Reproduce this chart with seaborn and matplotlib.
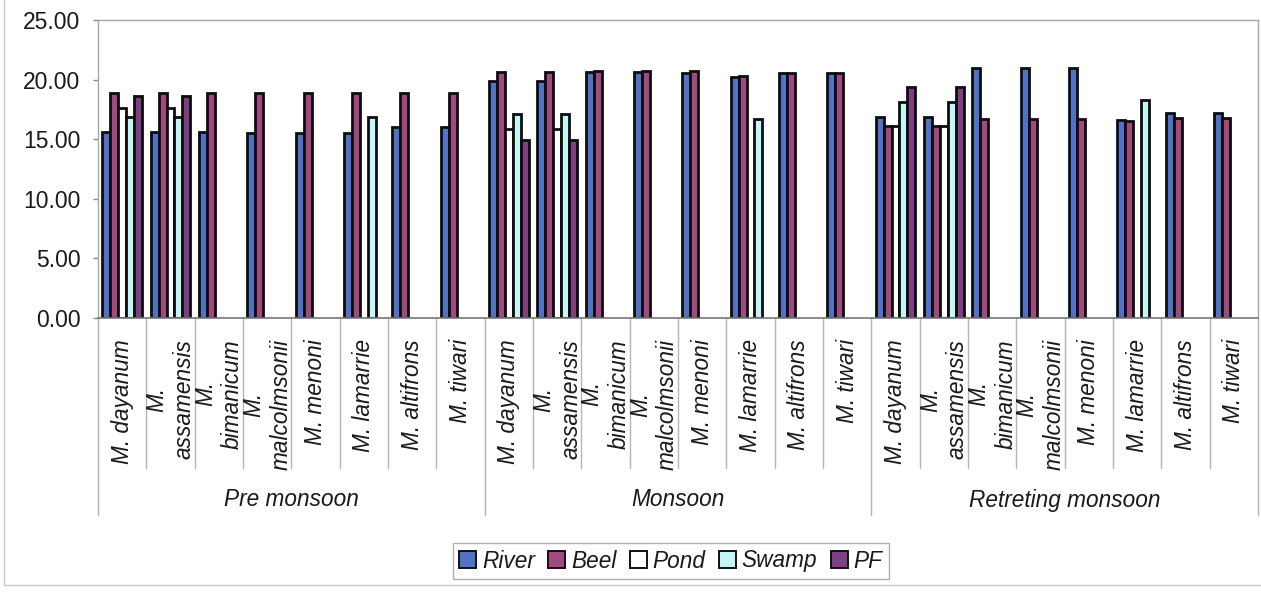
import numpy as np
import pandas as pd
import matplotlib
matplotlib.use("Agg")
import matplotlib.pyplot as plt
from matplotlib.lines import Line2D
from matplotlib.patches import Patch
import seaborn as sns

sns.set_theme(style="white")
plt.rcParams["font.family"] = ["Liberation Sans", "DejaVu Sans"]

seasons = ["Pre monsoon", "Monsoon", "Retreting monsoon"]
species = ["M. dayanum", "M.\nassamensis", "M.\nbimanicum", "M.\nmalcolmsonii",
           "M. menoni", "M. lamarrie", "M. altifrons", "M. tiwari"]
habitats = ["River", "Beel", "Pond", "Swamp", "PF"]
colors = ["#5272c6", "#a04a80", "#ffffff", "#c4f6f8", "#7e3f84"]

nan = np.nan
# one value per season x species, in the order of the lists above
river = [15.63, 15.63, 15.63, 15.55, 15.50, 15.55, 16.05, 16.05,
         19.91, 19.91, 20.60, 20.60, 20.55, 20.19, 20.52, 20.52,
         16.84, 16.84, 21.00, 21.00, 21.00, 16.61, 17.17, 17.17]
beel = [18.85, 18.85, 18.85, 18.85, 18.85, 18.90, 18.90, 18.90,
        20.60, 20.60, 20.72, 20.72, 20.72, 20.30, 20.52, 20.52,
        16.10, 16.10, 16.69, 16.69, 16.69, 16.50, 16.78, 16.78]
pond = [17.59, 17.59, nan, nan, nan, nan, nan, nan,
        15.86, 15.86, nan, nan, nan, nan, nan, nan,
        16.10, 16.10, nan, nan, nan, nan, nan, nan]
swamp = [16.84, 16.84, nan, nan, nan, 16.84, nan, nan,
         17.09, 17.09, nan, nan, nan, 16.69, nan, nan,
         18.09, 18.09, nan, nan, nan, 18.29, nan, nan]
pf = [18.62, 18.62, nan, nan, nan, nan, nan, nan,
      14.93, 14.93, nan, nan, nan, nan, nan, nan,
      19.35, 19.35, nan, nan, nan, nan, nan, nan]

keys = [f"{s}|{sp}" for s in seasons for sp in species]
df = pd.concat([
    pd.DataFrame({"key": keys, "habitat": h, "value": v})
    for h, v in zip(habitats, [river, beel, pond, swamp, pf])
]).dropna()

fig = plt.figure(figsize=(12.61, 5.92), dpi=100)
ax = fig.add_axes([98 / 1261, 1 - 318 / 592, 1160 / 1261, 298 / 592])

sns.barplot(data=df, x="key", y="value", hue="habitat", order=keys,
            hue_order=habitats, palette=colors, width=0.82, gap=0,
            edgecolor="#0d0d0d", linewidth=2.0, saturation=1, ax=ax,
            legend=False)

ax.set_xlim(-0.5, len(keys) - 0.5)
ax.set_ylim(0, 25)
ax.set_yticks([0, 5, 10, 15, 20, 25])
ax.set_yticklabels([f"{t:.2f}" for t in [0, 5, 10, 15, 20, 25]],
                   fontsize=16.5, color="#1a1a1a")
ax.tick_params(axis="y", which="both", left=True, length=3.6, width=1,
               color="#888888", pad=9)
ax.set_xticks([])
ax.set_xlabel("")
ax.set_ylabel("")

for side in ["top", "right", "left"]:
    ax.spines[side].set_color("#a8a8a8")
    ax.spines[side].set_linewidth(1)
ax.spines["bottom"].set_color("#777777")
ax.spines["bottom"].set_linewidth(1.2)

tr = ax.get_xaxis_transform()
sep_color = "#b5b5b5"
n = len(species)
for b in range(len(keys) + 1):
    xb = b - 0.5
    depth = -197 / 298 if b % n == 0 else -150 / 298
    ax.add_line(Line2D([xb, xb], [0, depth], transform=tr, color=sep_color,
                       lw=1, clip_on=False))

# species labels below each cluster; two-line names are laid out line by line
label_top = -21 / 298
line_dx = 0.28
txt_kw = dict(transform=tr, rotation=90, fontsize=16.3, style="italic",
              color="#1a1a1a", clip_on=False)
pending = []
for i, k in enumerate(keys):
    lines = k.split("|")[1].split("\n")
    if len(lines) == 1:
        ax.text(i, label_top, lines[0], rotation_mode="anchor", ha="right",
                va="center", **txt_kw)
    else:
        long_t = ax.text(i + line_dx, label_top, lines[1],
                         rotation_mode="anchor", ha="right", va="center",
                         **txt_kw)
        pending.append((i - line_dx, lines[0], long_t))

fig.canvas.draw()
renderer = fig.canvas.get_renderer()
for x0, first, long_t in pending:
    bb = long_t.get_window_extent(renderer)
    yc_disp = (bb.y0 + bb.y1) / 2
    yc_ax = ax.transAxes.inverted().transform((0, yc_disp))[1]
    ax.text(x0, yc_ax, first, rotation_mode="anchor", ha="center",
            va="center", **txt_kw)

# season labels
for j, s in enumerate(seasons):
    ax.text(j * n + (n - 1) / 2, -182 / 298, s, transform=tr, ha="center",
            va="center", fontsize=16.3, style="italic", color="#1a1a1a",
            clip_on=False)

handles = [Patch(facecolor=c, edgecolor="#111111", linewidth=1.4)
           for c in colors]
leg = fig.legend(handles, habitats, loc="center",
                 bbox_to_anchor=(671 / 1261, 1 - 561 / 592), ncol=5,
                 frameon=True, fancybox=False, handlelength=0.75,
                 handleheight=0.75, handletextpad=0.25, columnspacing=0.6,
                 borderpad=0.3, prop={"size": 16.3, "style": "italic"})
leg.get_frame().set_edgecolor("#9a9a9a")
leg.get_frame().set_linewidth(1)
for t in leg.get_texts():
    t.set_color("#1a1a1a")

# outer chart frame
fig.add_artist(Line2D([4 / 1261, 4 / 1261], [1 - 585 / 592, 1.01],
                      transform=fig.transFigure, color="#c8c8c8", lw=1))
fig.add_artist(Line2D([4 / 1261, 1.01], [1 - 585 / 592, 1 - 585 / 592],
                      transform=fig.transFigure, color="#c8c8c8", lw=1))

fig.savefig("out.png", dpi=100)
